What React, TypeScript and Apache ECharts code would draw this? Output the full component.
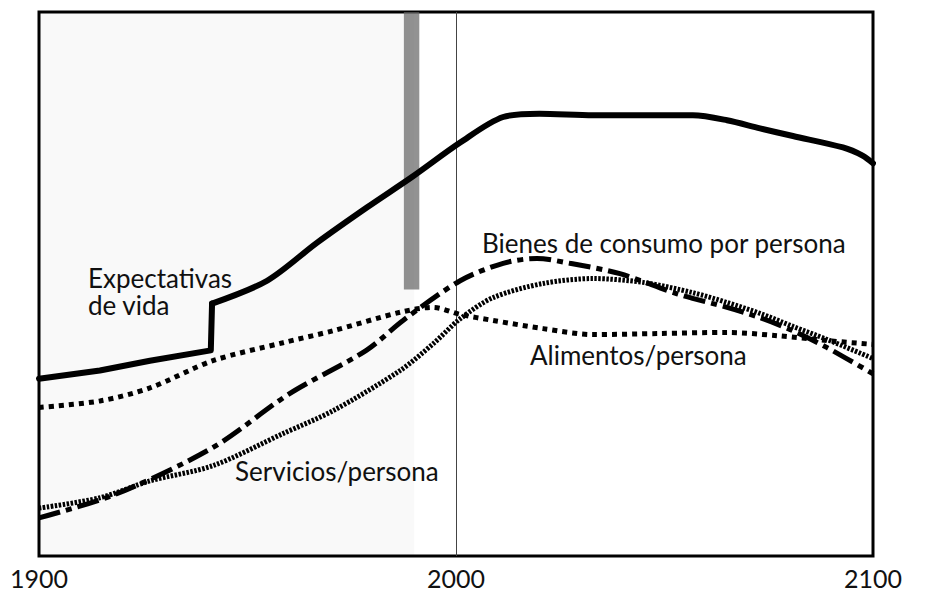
import React, { useEffect, useRef } from "react";
import * as echarts from "echarts";

const xTicks = [1900, 2000, 2100];

const expectativasAntes: [number, number][] = [
  [1900, 32.6], [1914.6, 34.1], [1926.6, 35.9], [1941.2, 37.8], [1941.5, 46.4],
];

const expectativasDespues: [number, number][] = [
  [1941.5, 46.4], [1954.7, 50.6], [1966.7, 57.6], [1978.7, 64.1], [1989.7, 69.8], [2001, 76.0],
  [2011.3, 80.7], [2020, 81.3], [2032.9, 81.0], [2056.8, 81.0],
  [2065, 80.1], [2072.9, 78.6], [2080.8, 77.2], [2092.8, 75.1], [2097.5, 73.6], [2100, 72.2],
];

const bienes: [number, number][] = [
  [1900, 7.0], [1918.5, 11.4], [1941.6, 19.9], [1960, 29.8], [1978.5, 37.8],
  [1987.3, 43.3], [2001, 50.6], [2011.3, 53.8], [2019.4, 54.7], [2027.3, 53.8],
  [2039.3, 51.9], [2053, 48.2], [2065, 45.7], [2072.9, 43.8], [2080.8, 41.4],
  [2089, 38.3], [2100, 33.5],
];

const servicios: [number, number][] = [
  [1900, 8.8], [1914.6, 10.7], [1926.6, 13.8], [1941.7, 16.6], [1958.5, 22.5],
  [1970.5, 26.7], [1986.6, 34.1], [1994.5, 39.0], [2001, 43.6], [2008.9, 47.5],
  [2020.9, 50.1], [2032.9, 51.0], [2044.8, 50.3], [2056.8, 48.4], [2065, 46.6],
  [2072.9, 44.6], [2080.8, 42.2], [2089, 39.8], [2100, 36.3],
];

const alimentos: [number, number][] = [
  [1900, 27.3], [1914.6, 28.5], [1926.6, 30.9], [1941.7, 35.9], [1958.5, 39.2],
  [1970.5, 41.4], [1986.6, 44.8], [1994.5, 45.7], [2001, 44.4], [2008.9, 43.3],
  [2020.9, 41.8], [2032.9, 40.7], [2048.8, 40.9], [2065, 41.1], [2077, 40.5],
  [2089, 39.6], [2100, 38.9],
];

const shadeRange = [1900, 1990];
const bandRange = [1987.5, 1991.2];
const bandTop = 100;
const bandBottom = 49;
const refYear = 2000;

const FONT = "Lato, 'Open Sans', sans-serif";
const FS = 26;

export default function App() {
  const ref = useRef<HTMLDivElement>(null);
  useEffect(() => {
    if (!ref.current) return;
    const chart = echarts.init(ref.current, null, { renderer: "svg" });
    const lineBase = { type: "line", showSymbol: false, symbol: "none", z: 5 };
    const solid = { color: "#000", width: 6, join: "round", cap: "round" };
    const txt = (text: string, left: number, top: number, lh = 22) => ({
      type: "text", left, top,
      style: { text, font: `${FS}px ${FONT}`, fill: "#111", lineHeight: lh },
    });
    chart.setOption({
      animation: false,
      backgroundColor: "#ffffff",
      grid: {
        left: 39, right: 52, top: 12, bottom: 36,
        show: true, borderColor: "#000", borderWidth: 3, backgroundColor: "transparent",
      },
      xAxis: {
        type: "value", min: 1900, max: 2100, interval: 100,
        axisLine: { show: false }, axisTick: { show: false }, splitLine: { show: false },
        axisLabel: {
          color: "#111", fontSize: 25, fontFamily: FONT, margin: 9, lineHeight: 25,
          formatter: (v: number) => (xTicks.includes(v) ? String(v) : ""),
        },
      },
      yAxis: { type: "value", min: 0, max: 100, show: false },
      series: [
        {
          ...lineBase, name: "Expectativas de vida", data: expectativasAntes, smooth: false,
          lineStyle: solid,
          markArea: {
            silent: true,
            data: [
              [{ xAxis: shadeRange[0], itemStyle: { color: "rgba(0,0,0,0.025)" } }, { xAxis: shadeRange[1] }],
              [{ coord: [bandRange[0], bandTop], itemStyle: { color: "rgba(100,100,100,0.7)" } }, { coord: [bandRange[1], bandBottom] }],
            ],
          },
          markLine: {
            silent: true, symbol: "none", label: { show: false },
            lineStyle: { color: "#444", width: 1, type: "solid" },
            data: [{ xAxis: refYear }],
          },
        },
        {
          ...lineBase, name: "Expectativas de vida ", data: expectativasDespues, smooth: 0.3,
          lineStyle: solid,
        },
        {
          ...lineBase, name: "Bienes de consumo por persona", data: bienes, smooth: 0.3,
          lineStyle: { color: "#000", width: 5, type: [22, 6, 6, 6] },
        },
        {
          ...lineBase, name: "Servicios/persona", data: servicios, smooth: 0.3,
          lineStyle: { color: "#000", width: 5, type: [2.5, 1.5] },
        },
        {
          ...lineBase, name: "Alimentos/persona", data: alimentos, smooth: 0.3,
          lineStyle: { color: "#000", width: 5, type: [5, 5] },
        },
      ],
      graphic: [
        txt("Expectativas\nde vida", 88, 264, 27),
        txt("Bienes de consumo por persona", 482, 230),
        txt("Alimentos/persona", 530, 342),
        txt("Servicios/persona", 235, 458),
      ],
    });
    return () => chart.dispose();
  }, []);
  return <div ref={ref} style={{ position: "fixed", left: 0, top: 0, width: 925, height: 592 }} />;
}
